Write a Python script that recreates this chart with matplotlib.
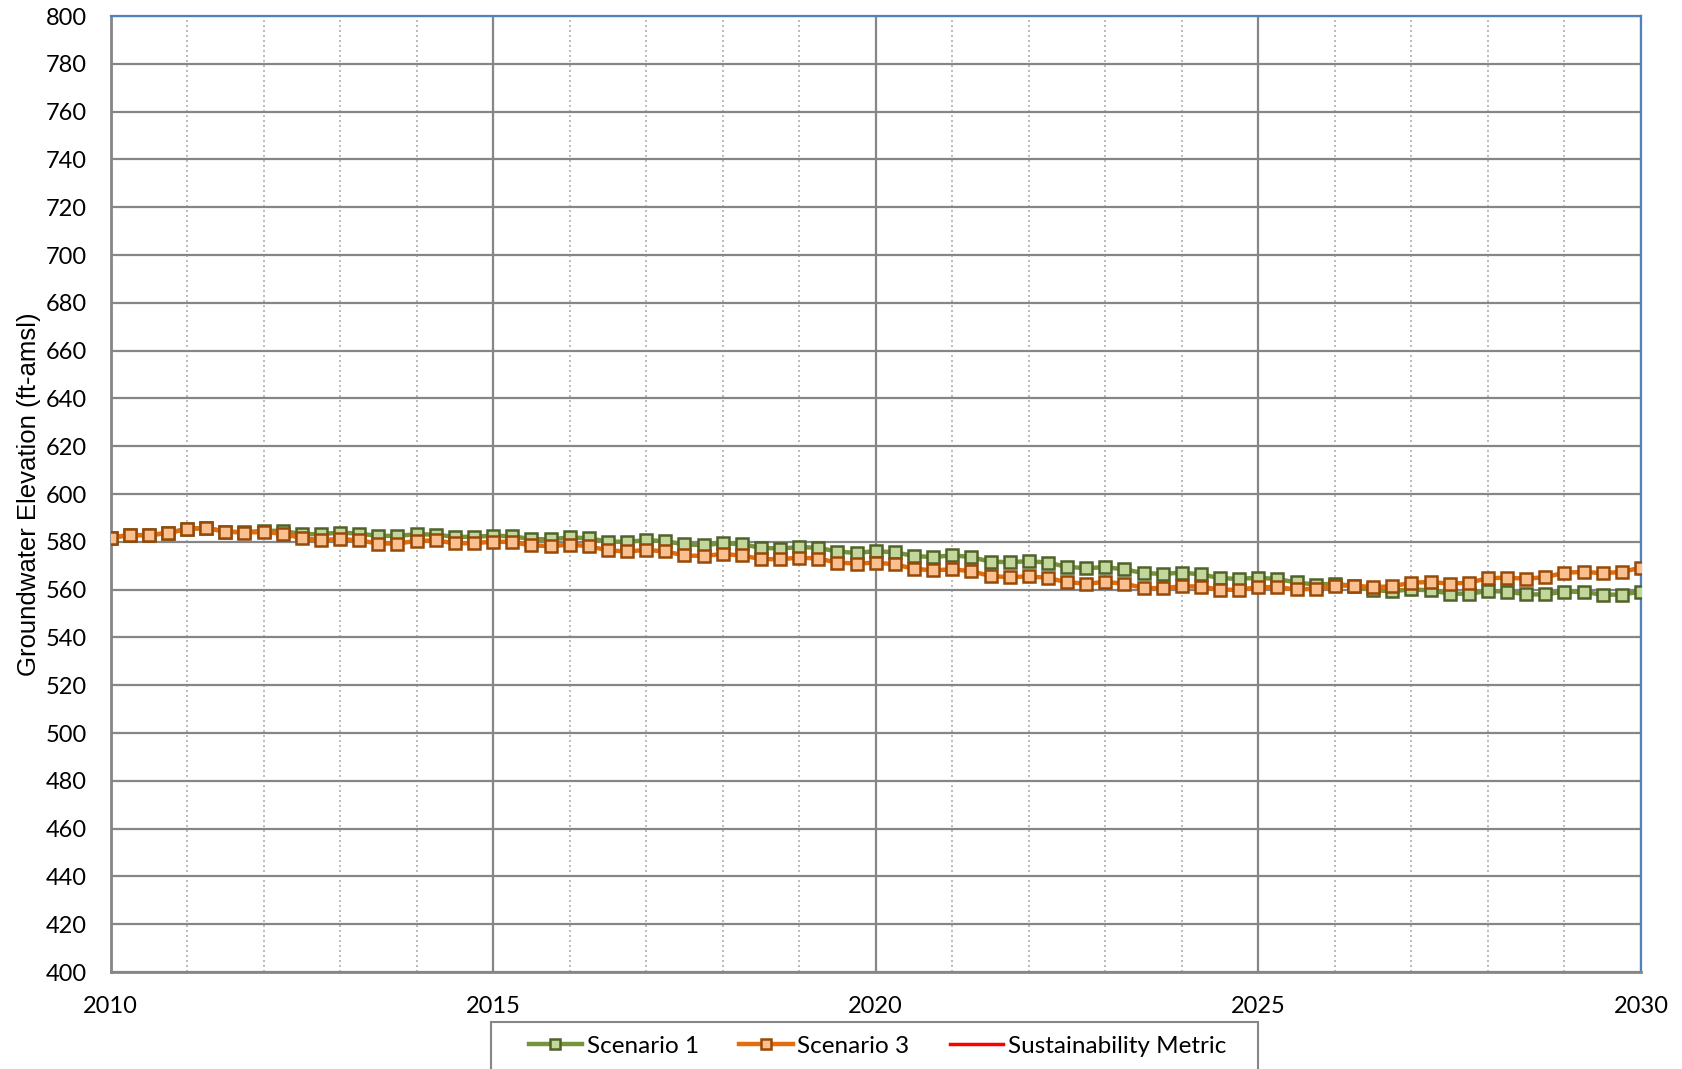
import numpy as np
import matplotlib
matplotlib.use("Agg")
import matplotlib.pyplot as plt
from matplotlib.ticker import MultipleLocator
from matplotlib.patches import Rectangle

# quarterly model output, 2010 - 2030
years = np.arange(2010, 2030.01, 0.25)

scenario_1 = [
    581.8, 582.8, 582.8, 583.7,
    585.4, 585.8, 584.3, 584.0,
    584.6, 584.6, 583.2, 583.2,
    583.9, 583.4, 582.5, 582.5,
    583.2, 583.0, 582.1, 582.1,
    582.6, 582.3, 581.2, 581.0,
    581.9, 581.5, 580.1, 580.0,
    580.7, 580.3, 578.9, 578.6,
    579.4, 579.0, 577.5, 577.2,
    577.8, 577.5, 575.9, 575.4,
    576.1, 575.6, 574.1, 573.6,
    574.4, 573.6, 571.7, 571.5,
    571.9, 571.3, 569.5, 569.0,
    569.4, 568.5, 566.9, 566.6,
    567.1, 566.4, 564.8, 564.5,
    565.0, 564.4, 563.0, 562.1,
    562.5, 561.5, 559.7, 559.4,
    560.1, 559.7, 558.3, 558.3,
    559.4, 559.2, 558.0, 558.0,
    559.2, 559.0, 557.9, 557.9,
    559.2]

scenario_3 = [
    581.8, 582.8, 582.8, 583.7,
    585.4, 585.8, 584.3, 583.9,
    584.1, 583.4, 581.5, 580.7,
    581.2, 580.6, 579.3, 579.3,
    580.4, 580.6, 579.4, 579.4,
    580.1, 579.9, 578.5, 578.2,
    578.8, 578.2, 576.4, 576.0,
    576.6, 576.0, 574.3, 574.1,
    574.9, 574.3, 572.8, 572.7,
    573.4, 573.0, 571.3, 570.9,
    571.3, 570.6, 568.7, 568.1,
    568.5, 567.7, 565.7, 565.2,
    565.6, 564.9, 563.1, 562.5,
    563.2, 562.5, 560.7, 560.6,
    561.4, 561.3, 560.0, 559.9,
    561.1, 561.0, 560.1, 560.4,
    561.7, 561.7, 561.0, 561.4,
    562.9, 563.2, 562.5, 562.9,
    564.8, 565.0, 564.6, 565.2,
    567.1, 567.4, 566.9, 567.4,
    569.2]

# no metric value falls inside the plotted range
metric_years = []
metric_values = []

fig = plt.figure(figsize=(16.82, 10.69), dpi=100)
ax = fig.add_axes([0.0657, 0.0907, 0.9099, 0.8943])

ax.plot(years, scenario_1, color="#77933c", lw=3.2, marker="s", ms=8.5,
        mfc="#c3d69b", mec="#4f6228", mew=1.8, label="Scenario 1", zorder=3)
ax.plot(years, scenario_3, color="#e46c0a", lw=3.2, marker="s", ms=8.5,
        mfc="#fac090", mec="#984807", mew=1.8, label="Scenario 3", zorder=4)
ax.plot(metric_years, metric_values, color="#ff0000", lw=2.5,
        label="Sustainability Metric")

ax.set_xlim(2010, 2030)
ax.set_ylim(400, 800)
ax.xaxis.set_major_locator(MultipleLocator(5))
ax.xaxis.set_minor_locator(MultipleLocator(1))
ax.yaxis.set_major_locator(MultipleLocator(20))

ax.grid(which="major", axis="both", color="#868686", lw=1.6)
ax.grid(which="minor", axis="x", color="#b0b0b0", lw=1.2, ls=(0, (1.2, 1.8)))
ax.set_axisbelow(True)

ax.tick_params(which="both", length=0, labelsize=17, pad=17)
for lab in ax.get_xticklabels() + ax.get_yticklabels():
    lab.set_family("Lato")

for s in ["left", "bottom"]:
    ax.spines[s].set_color("#868686")
    ax.spines[s].set_linewidth(2)
for s in ["top", "right"]:
    ax.spines[s].set_color("#4f81bd")
    ax.spines[s].set_linewidth(1.6)

ax.set_ylabel("Groundwater Elevation (ft-amsl)", fontsize=18.5,
              family="Liberation Sans", labelpad=3.5)

# legend box runs off the bottom edge, as in the source
fig.add_artist(Rectangle((0.2919, -0.03), 0.456, 0.074, transform=fig.transFigure,
                         facecolor="white", edgecolor="#868686", lw=1.5, zorder=1))
leg = fig.legend(loc="center", bbox_to_anchor=(0.5217, 0.0215), ncol=3,
                 frameon=False, prop={"family": "Lato", "size": 17.5},
                 handlelength=2.2, handletextpad=0.2, columnspacing=1.65,
                 borderpad=0, borderaxespad=0)
leg.set_zorder(5)
for h in leg.legend_handles:
    h.set_markersize(7.5)

fig.savefig("out.png", dpi=100)
